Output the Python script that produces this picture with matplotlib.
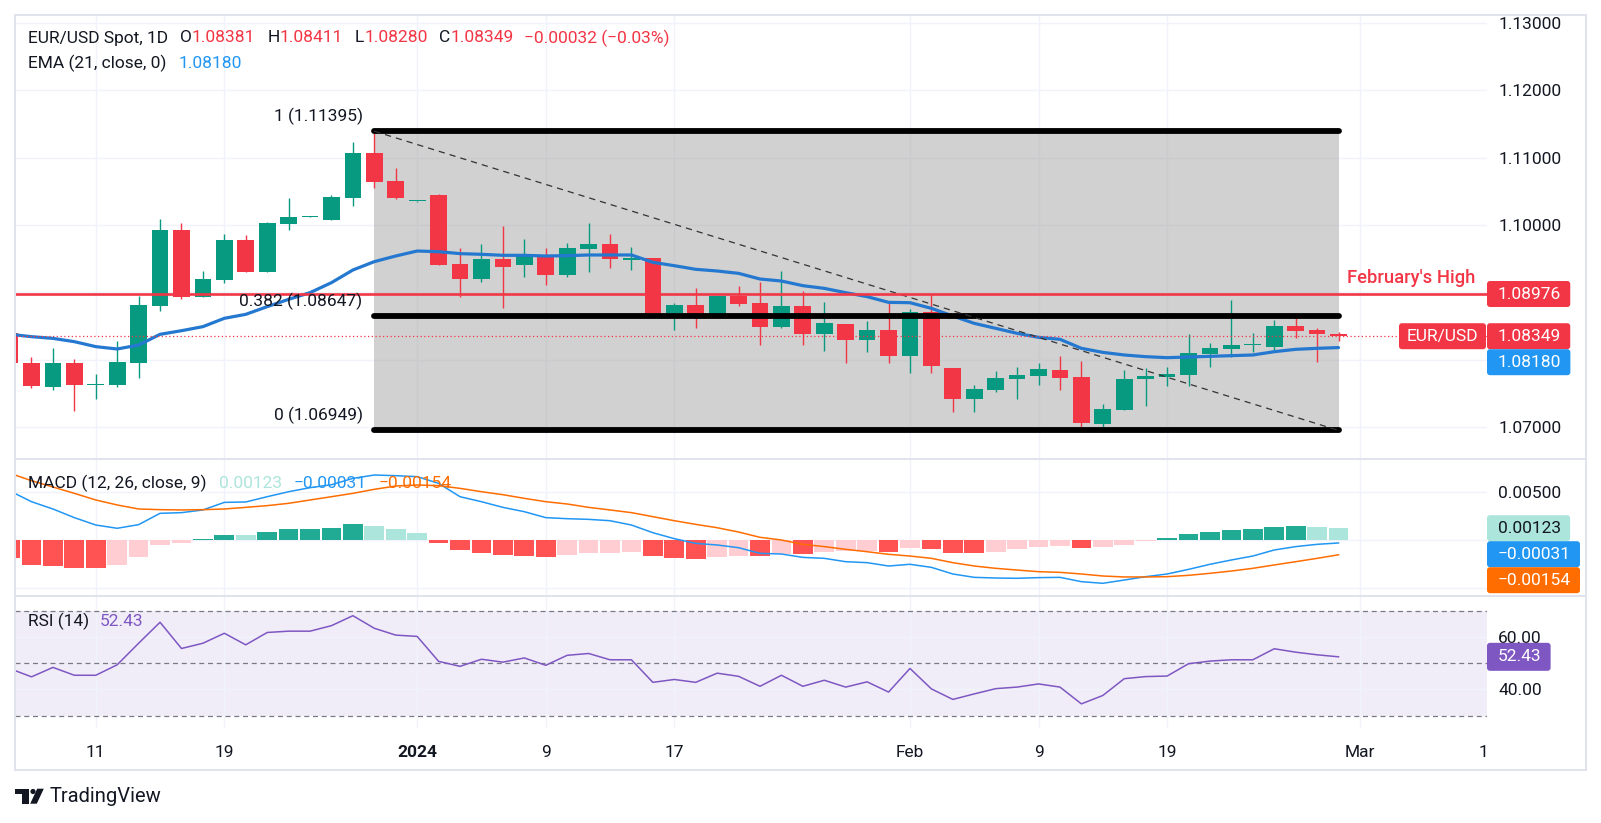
import numpy as np
import pandas as pd
import matplotlib
matplotlib.use("Agg")
import matplotlib.pyplot as plt
from matplotlib.patches import Rectangle, FancyBboxPatch, Polygon, Circle
from matplotlib.transforms import IdentityTransform, Bbox, blended_transform_factory, offset_copy
from matplotlib.ticker import FuncFormatter

# ---------------- data ----------------
dates = pd.bdate_range('2023-12-05', '2024-02-29')

opens = [1.08392, 1.07946, 1.07599, 1.07946, 1.07625, 1.07629, 1.07956, 1.08803, 1.09927, 1.08937,
         1.09184, 1.09779, 1.09308, 1.10021, 1.10120, 1.10081, 1.10408, 1.11071, 1.10655, 1.10355,
         1.10447, 1.09422, 1.09199, 1.09496, 1.09412, 1.09546, 1.09264, 1.09645, 1.09719, 1.09486,
         1.09511, 1.08699, 1.08813, 1.08684, 1.08951, 1.08842, 1.08491, 1.08798, 1.08382, 1.08530,
         1.08293, 1.08441, 1.08060, 1.08709, 1.07877, 1.07411, 1.07555, 1.07718, 1.07763, 1.07842,
         1.07743, 1.07050, 1.07253, 1.07708, 1.07748, 1.07778, 1.08090, 1.08164, 1.08211, 1.08189,
         1.08501, 1.08441, 1.08381]
highs = [1.08420, 1.08040, 1.08174, 1.08010, 1.07788, 1.08283, 1.08947, 1.10091, 1.10026, 1.09318,
         1.09868, 1.09853, 1.10040, 1.10403, 1.10135, 1.10447, 1.11235, 1.11395, 1.10848, 1.10365,
         1.10457, 1.09660, 1.09719, 1.09987, 1.09793, 1.09660, 1.09729, 1.10031, 1.09868, 1.09675,
         1.09515, 1.08842, 1.09065, 1.08955, 1.09100, 1.09155, 1.09318, 1.09021, 1.08857, 1.08535,
         1.08580, 1.08872, 1.08748, 1.08976, 1.07880, 1.07624, 1.07832, 1.07892, 1.07946, 1.08055,
         1.07981, 1.07342, 1.07847, 1.07882, 1.07887, 1.08382, 1.08243, 1.08887, 1.08392, 1.08590,
         1.08649, 1.08466, 1.08411]
lows = [1.07920, 1.07580, 1.07555, 1.07243, 1.07421, 1.07599, 1.07733, 1.08729, 1.08897, 1.08927,
        1.09145, 1.09308, 1.09300, 1.09932, 1.10115, 1.10075, 1.10284, 1.10556, 1.10388, 1.10350,
        1.09410, 1.08937, 1.09155, 1.08773, 1.09234, 1.09115, 1.09234, 1.09303, 1.09367, 1.09333,
        1.08625, 1.08441, 1.08471, 1.08649, 1.08803, 1.08218, 1.08471, 1.08218, 1.08134, 1.07956,
        1.08119, 1.07956, 1.07807, 1.07807, 1.07228, 1.07228, 1.07520, 1.07421, 1.07629, 1.07555,
        1.07005, 1.06949, 1.07250, 1.07317, 1.07614, 1.07614, 1.07896, 1.08035, 1.08119, 1.08119,
        1.08327, 1.07971, 1.08280]
closes = [1.07946, 1.07609, 1.07946, 1.07629, 1.07632, 1.07961, 1.08813, 1.09927, 1.08937, 1.09199,
          1.09779, 1.09308, 1.10031, 1.10120, 1.10130, 1.10418, 1.11071, 1.10645, 1.10408, 1.10360,
          1.09412, 1.09199, 1.09491, 1.09382, 1.09546, 1.09264, 1.09660, 1.09719, 1.09501, 1.09511,
          1.08699, 1.08813, 1.08684, 1.08951, 1.08833, 1.08491, 1.08798, 1.08382, 1.08545, 1.08293,
          1.08441, 1.08060, 1.08709, 1.07911, 1.07411, 1.07560, 1.07728, 1.07768, 1.07857, 1.07733,
          1.07064, 1.07263, 1.07708, 1.07758, 1.07788, 1.08100, 1.08174, 1.08218, 1.08213, 1.08501,
          1.08431, 1.08381, 1.08349]
ema21 = [1.08377, 1.08342, 1.08317, 1.08268, 1.08194, 1.08159, 1.08218, 1.08377, 1.08431, 1.08491,
         1.08615, 1.08674, 1.08788, 1.08897, 1.08996, 1.09145, 1.09333, 1.09457, 1.09541, 1.09615,
         1.09605, 1.09576, 1.09566, 1.09551, 1.09551, 1.09541, 1.09546, 1.09556, 1.09556, 1.09556,
         1.09447, 1.09397, 1.09343, 1.09318, 1.09283, 1.09199, 1.09169, 1.09100, 1.09060, 1.08996,
         1.08937, 1.08852, 1.08847, 1.08763, 1.08649, 1.08540, 1.08466, 1.08392, 1.08332, 1.08303,
         1.08169, 1.08109, 1.08070, 1.08045, 1.08030, 1.08040, 1.08050, 1.08060, 1.08070, 1.08119,
         1.08154, 1.08169, 1.08180]
macd_line = [0.00510, 0.00399, 0.00323, 0.00233, 0.00156, 0.00122, 0.00160, 0.00278, 0.00285, 0.00313,
             0.00392, 0.00396, 0.00451, 0.00503, 0.00545, 0.00576, 0.00642, 0.00677, 0.00670, 0.00660,
             0.00590, 0.00451, 0.00399, 0.00340, 0.00295, 0.00233, 0.00222, 0.00215, 0.00201, 0.00156,
             0.00076, 0.00014, -0.00035, -0.00052, -0.00080, -0.00139, -0.00146, -0.00181, -0.00191, -0.00226,
             -0.00236, -0.00271, -0.00253, -0.00285, -0.00354, -0.00389, -0.00396, -0.00399, -0.00392, -0.00389,
             -0.00434, -0.00451, -0.00417, -0.00382, -0.00354, -0.00306, -0.00253, -0.00208, -0.00167, -0.00104,
             -0.00069, -0.00045, -0.00031]
signal_line = [0.00694, 0.00618, 0.00552, 0.00486, 0.00417, 0.00365, 0.00323, 0.00316, 0.00313, 0.00316,
               0.00323, 0.00340, 0.00358, 0.00382, 0.00417, 0.00451, 0.00486, 0.00528, 0.00562, 0.00573,
               0.00566, 0.00538, 0.00503, 0.00472, 0.00434, 0.00399, 0.00375, 0.00340, 0.00313, 0.00285,
               0.00243, 0.00201, 0.00163, 0.00128, 0.00083, 0.00028, 0.00000, -0.00045, -0.00069, -0.00097,
               -0.00122, -0.00149, -0.00167, -0.00191, -0.00236, -0.00271, -0.00295, -0.00313, -0.00330, -0.00337,
               -0.00354, -0.00375, -0.00385, -0.00385, -0.00382, -0.00368, -0.00347, -0.00323, -0.00295, -0.00260,
               -0.00226, -0.00191, -0.00154]
macd_hist = [-0.00184, -0.00260, -0.00271, -0.00288, -0.00290, -0.00260, -0.00177, -0.00049, -0.00028, 0.00010,
             0.00052, 0.00050, 0.00083, 0.00115, 0.00117, 0.00125, 0.00167, 0.00146, 0.00115, 0.00076,
             -0.00028, -0.00100, -0.00135, -0.00156, -0.00163, -0.00177, -0.00156, -0.00132, -0.00131, -0.00122,
             -0.00163, -0.00188, -0.00194, -0.00177, -0.00163, -0.00165, -0.00146, -0.00149, -0.00128, -0.00115,
             -0.00115, -0.00122, -0.00083, -0.00090, -0.00132, -0.00135, -0.00122, -0.00097, -0.00073, -0.00059,
             -0.00080, -0.00078, -0.00049, -0.00010, 0.00021, 0.00066, 0.00083, 0.00104, 0.00115, 0.00135,
             0.00146, 0.00135, 0.00123]
rsi14 = [47.9, 44.8, 48.4, 45.4, 45.4, 49.4, 57.6, 65.6, 55.6, 57.6,
         61.4, 57.0, 61.7, 62.2, 62.2, 64.3, 68.1, 63.3, 60.7, 60.2,
         50.7, 48.8, 51.5, 50.4, 52.0, 49.2, 53.0, 53.7, 51.3, 51.3,
         42.7, 43.8, 42.7, 46.2, 45.0, 41.2, 45.4, 41.2, 43.5, 40.9,
         42.9, 39.0, 48.0, 40.2, 36.2, 38.3, 40.3, 40.9, 42.1, 40.9,
         34.5, 37.7, 44.1, 44.9, 45.1, 49.8, 50.8, 51.3, 51.3, 55.5,
         54.2, 53.2, 52.43]

fib_levels = [1.0, 0.382, 0.0]
fib_prices = [1.11395, 1.08647, 1.06949]
fib_start, fib_end = '2023-12-28', '2024-02-29'
feb_high = 1.08976
last_ohlc = dict(O=1.08381, H=1.08411, L=1.08280, C=1.08349)
change, change_pct = -0.00032, -0.03

tick_dates = ['2023-12-11', '2023-12-19', '2024-01-01', '2024-01-09', '2024-01-17',
              '2024-02-01', '2024-02-09', '2024-02-19', '2024-03-01', '2024-03-11']
tick_labels = ['11', '19', '2024', '9', '17', 'Feb', '9', '19', 'Mar', '11']
price_ticks = [1.07, 1.08, 1.09, 1.10, 1.11, 1.12, 1.13]
price_tick_labels = ['1.07000', '', '', '1.10000', '1.11000', '1.12000', '1.13000']
macd_ticks = [-0.005, 0.0, 0.005]
macd_tick_labels = ['', '', '0.00500']
rsi_ticks = [40, 60]
rsi_tick_labels = ['40.00', '60.00']

# ---------------- style ----------------
W, H = 1601, 823
plt.rcParams['font.family'] = ['Roboto', 'DejaVu Sans']
FS = 12.5
TXT = '#131722'
UP, DN = '#089981', '#f23645'
EMA_C = '#2478d0'
BLUE, ORANGE, PURPLE = '#2196f3', '#ff6d00', '#7e57c2'
GRID = '#f0f3fa'
BORDER = '#e0e3eb'
MINUS = '\u2212'
ID = IdentityTransform()

fig = plt.figure(figsize=(W / 100, H / 100), dpi=100)
fig.patch.set_facecolor('white')


def pxrect(x0, y0, x1, y1):
    return [x0 / W, 1 - y1 / H, (x1 - x0) / W, (y1 - y0) / H]


PL, PR = 15, 1487
ax_p = fig.add_axes(pxrect(PL, 15, PR, 459))
ax_m = fig.add_axes(pxrect(PL, 459, PR, 596))
ax_r = fig.add_axes(pxrect(PL, 596, PR, 728))

axis_days = pd.bdate_range('2023-12-05', '2024-03-15')
pos = {d.strftime('%Y-%m-%d'): i for i, d in enumerate(axis_days)}
x = np.array([pos[d.strftime('%Y-%m-%d')] for d in dates])
tick_pos = [pos[d] for d in tick_dates]
XLIM = (0.23, 68.93)

for ax in (ax_p, ax_m, ax_r):
    ax.set_xlim(*XLIM)
    for s in ax.spines.values():
        s.set_visible(False)
    ax.set_facecolor('none')
    ax.set_axisbelow(True)
    ax.set_xticks(tick_pos[:-1])
    ax.grid(True, color=GRID, lw=1.0)
    ax.yaxis.tick_right()
    ax.tick_params(axis='both', length=0, labelsize=FS, labelcolor=TXT, pad=8)
    ax.tick_params(axis='x', labelbottom=False)

# ---------------- price pane ----------------
ax_p.set_ylim(1.065245, 1.131218)
ax_p.set_yticks(price_ticks)
ax_p.set_yticklabels(price_tick_labels)

o = np.array(opens); c = np.array(closes); hi = np.array(highs); lo = np.array(lows)
cols = np.where(c >= o, UP, DN)
ax_p.vlines(x, lo, hi, colors=cols, lw=1.0, zorder=3)
body_lo = np.minimum(o, c)
body_h = np.maximum(np.abs(c - o), 0.00016)
ax_p.bar(x, body_h, bottom=body_lo, width=0.78, color=cols, lw=0, zorder=3)

ax_p.plot(x, ema21, color=EMA_C, lw=2.3, zorder=4, solid_capstyle='round')

# fib retracement box
fx0, fx1 = pos[fib_start], pos[fib_end]
ax_p.add_patch(Rectangle((fx0, fib_prices[2]), fx1 - fx0, fib_prices[0] - fib_prices[2],
                         facecolor='#9e9e9e', alpha=0.47, lw=0, zorder=1))
for lvl, pr in zip(fib_levels, fib_prices):
    ax_p.plot([fx0, fx1], [pr, pr], color='black', lw=4.2, solid_capstyle='round', zorder=5)
    ax_p.annotate(f"{lvl:g} ({pr:.5f})", xy=(fx0, pr), xytext=(-8.5, 11), textcoords='offset points',
                  ha='right', va='center', fontsize=FS, color=TXT, zorder=6)
ax_p.plot([fx0, fx1], [fib_prices[0], fib_prices[2]], color='#333333', lw=0.9,
          ls=(0, (5, 4)), zorder=5)

ax_p.axhline(feb_high, color=DN, lw=1.9, zorder=5)
bt = blended_transform_factory(ax_p.transAxes, ax_p.transData)
ax_p.annotate("February's High", xy=(0.992, feb_high), xycoords=bt, xytext=(0, 11.5),
              textcoords='offset points', ha='right', va='center', fontsize=13.2,
              color=DN, fontweight='medium', zorder=6)
ax_p.axhline(closes[-1], color=DN, lw=0.9, ls=(0, (1, 2)), zorder=5)

# ---------------- MACD pane ----------------
ax_m.set_ylim(-0.005833, 0.0084375)
ax_m.set_yticks(macd_ticks)
ax_m.set_yticklabels(macd_tick_labels)
hist = np.array(macd_hist)
hcols = []
for i, v in enumerate(hist):
    prev = hist[i - 1] if i > 0 else None
    if v >= 0:
        hcols.append('#22ab94' if (prev is None or v > prev) else '#ace5dc')
    else:
        hcols.append('#ff5252' if (prev is None or v < prev) else '#ffcdd2')
ax_m.bar(x, hist, width=0.92, color=hcols, lw=0, zorder=2)
ax_m.plot(x, macd_line, color=BLUE, lw=1.1, zorder=3)
ax_m.plot(x, signal_line, color=ORANGE, lw=1.1, zorder=3)

# ---------------- RSI pane ----------------
ax_r.set_ylim(25.31, 75.6)
ax_r.set_yticks(rsi_ticks)
ax_r.set_yticklabels(rsi_tick_labels)
ax_r.axhspan(30, 70, color=PURPLE, alpha=0.1, lw=0, zorder=0)
for lv in (70, 50, 30):
    ax_r.axhline(lv, color='#787b86', lw=0.9, ls=(0, (4, 3)), zorder=1)
ax_r.plot(x, rsi14, color=PURPLE, lw=1.1, zorder=3)

ax_r.tick_params(axis='x', labelbottom=True, pad=12)
ax_r.set_xticklabels(tick_labels[:-1])
for t in ax_r.get_xticklabels():
    if t.get_text() == '2024':
        t.set_fontweight('bold')
clip_bb = Bbox.from_extents(PL, 0, PR, H)
bt_r = blended_transform_factory(ax_r.transData, ax_r.transAxes)
t_last = ax_r.text(tick_pos[-1], 0, tick_labels[-1], ha='center', va='top',
                   fontsize=FS, color=TXT,
                   transform=offset_copy(bt_r, fig=fig, x=0, y=-12, units='points'))
t_last.set_clip_box(clip_bb)
t_last.set_clip_on(True)

# ---------------- frame & separators ----------------
fig.add_artist(Rectangle((15, H - 770), 1586 - 15, 770 - 15, transform=ID, fill=False,
                         edgecolor=BORDER, lw=1.4))
for yy in (459, 596):
    fig.add_artist(plt.Line2D([15, 1586], [H - yy, H - yy], transform=ID, color=BORDER, lw=1.4))

renderer = fig.canvas.get_renderer()


def text_px(xp, yp, s, **kw):
    kw.setdefault('fontsize', FS)
    kw.setdefault('va', 'center')
    return fig.text(xp, H - yp, s, transform=ID, **kw)


def legend_row(x0, yc, pieces):
    xx = x0
    for s, col, gap in pieces:
        t = text_px(xx, yc, s, color=col, ha='left')
        xx += t.get_window_extent(renderer=renderer).width + gap


fmt = lambda v: f"{v:.5f}".replace('-', MINUS)
legend_row(28, 38, [("EUR/USD Spot, 1D", TXT, 12),
                    ("O", TXT, 0), (fmt(last_ohlc['O']), DN, 12),
                    ("H", TXT, 0), (fmt(last_ohlc['H']), DN, 12),
                    ("L", TXT, 0), (fmt(last_ohlc['L']), DN, 12),
                    ("C", TXT, 0), (fmt(last_ohlc['C']), DN, 10),
                    (f"{fmt(change)} ({change_pct:.2f}%)".replace('-', MINUS), DN, 0)])
legend_row(28, 63, [("EMA (21, close, 0)", TXT, 12), (fmt(ema21[-1]), BLUE, 0)])
legend_row(28, 483, [("MACD (12, 26, close, 9)", TXT, 12), (fmt(macd_hist[-1]), '#ace5dc', 12),
                     (fmt(macd_line[-1]), BLUE, 12), (fmt(signal_line[-1]), ORANGE, 0)])
legend_row(28, 621, [("RSI (14)", TXT, 11), (f"{rsi14[-1]:.2f}", PURPLE, 0)])


# ---------------- axis value labels ----------------
def ypix(ax, v):
    return H - ax.transData.transform((0, v))[1]


def axis_labels(ax, items, bh=26):
    items = sorted(items, key=lambda it: ypix(ax, it[0]))
    prev = -1e9
    out = []
    for v, s, fc, tc in items:
        yc = max(ypix(ax, v), prev + bh)
        prev = yc
        t = text_px(1498, yc, s, color=tc, ha='left', zorder=11)
        w = t.get_window_extent(renderer=renderer).width
        fig.add_artist(FancyBboxPatch((1487, H - yc - bh / 2), (1498 - 1487) + w + 9, bh,
                                      boxstyle='round,pad=0,rounding_size=3', transform=ID,
                                      facecolor=fc, edgecolor='none', zorder=10))
        out.append((s, yc))
    return out


pl = axis_labels(ax_p, [(feb_high, fmt(feb_high), DN, 'white'),
                        (closes[-1], fmt(closes[-1]), DN, 'white'),
                        (ema21[-1], fmt(ema21[-1]), BLUE, 'white')])
yc_close = dict(pl)[fmt(closes[-1])]
fig.add_artist(FancyBboxPatch((1399, H - yc_close - 13), 1486 - 1399, 26,
                              boxstyle='round,pad=0,rounding_size=3', transform=ID,
                              facecolor=DN, edgecolor='none', zorder=10))
text_px((1399 + 1486) / 2, yc_close, "EUR/USD", color='white', ha='center', zorder=11)

axis_labels(ax_m, [(macd_hist[-1], fmt(macd_hist[-1]), '#ace5dc', TXT),
                   (macd_line[-1], fmt(macd_line[-1]), BLUE, 'white'),
                   (signal_line[-1], fmt(signal_line[-1]), ORANGE, 'white')])
axis_labels(ax_r, [(rsi14[-1], f"{rsi14[-1]:.2f}", PURPLE, 'white')], bh=28)

# ---------------- TradingView logo ----------------
LOGO = '#131722'
fig.add_artist(Polygon([(15, H - 788.7), (29.3, H - 788.7), (29.3, H - 803.7), (22, H - 803.7),
                        (22, H - 793.5), (15, H - 793.5)], closed=True, transform=ID,
                       facecolor=LOGO, edgecolor='none'))
fig.add_artist(Circle((33, H - 791.5), 2.6, transform=ID, facecolor=LOGO, edgecolor='none'))
fig.add_artist(Polygon([(37.2, H - 788.7), (43.8, H - 788.7), (36.8, H - 803.7), (30.2, H - 803.7)],
                       closed=True, transform=ID, facecolor=LOGO, edgecolor='none'))
text_px(50, 796.5, "TradingView", color=LOGO, ha='left', fontsize=14.5)

fig.savefig('out.png', dpi=100, facecolor='white')
